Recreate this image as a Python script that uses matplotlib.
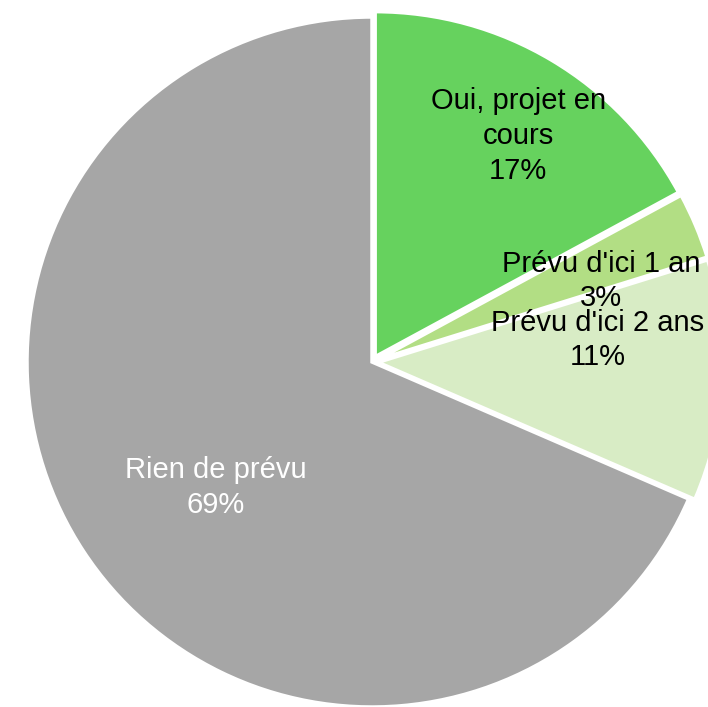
import matplotlib.pyplot as plt

labels = ["Oui, projet en\ncours", "Prévu d'ici 1 an", "Prévu d'ici 2 ans", "Rien de prévu"]
shares = [17.1, 3.1, 11.3, 68.5]
pct_labels = ["17%", "3%", "11%", "69%"]
colors = ["#66D25E", "#B2DE84", "#D8ECC5", "#A6A6A6"]
text_colors = ["black", "black", "black", "white"]
explode = [0.018, 0.018, 0.018, 0.0]

# label centres in data units (radius = 1)
label_pos = [(0.424, 0.655), (0.664, 0.235), (0.655, 0.064), (-0.452, -0.363)]

plt.rcParams["font.family"] = ["Liberation Sans", "DejaVu Sans"]

fig = plt.figure(figsize=(7.08, 7.07), dpi=100, facecolor="white")
ax = fig.add_axes([0, 0, 1, 1])

ax.pie(
    shares,
    colors=colors,
    explode=explode,
    startangle=90,
    counterclock=False,
    radius=1.0,
    wedgeprops={"edgecolor": "white", "linewidth": 2.5},
)

for lab, pct, (x, y), tc in zip(labels, pct_labels, label_pos, text_colors):
    ax.text(x, y, f"{lab}\n{pct}", ha="center", va="center", fontsize=21,
            color=tc, linespacing=1.3)

# pie centre at pixel (372, 362), radius 345 px
ax.set_xlim(-372 / 345, (708 - 372) / 345)
ax.set_ylim(-(707 - 362) / 345, 362 / 345)
ax.set_aspect("auto")
ax.axis("off")

fig.savefig("out.png", dpi=100)
